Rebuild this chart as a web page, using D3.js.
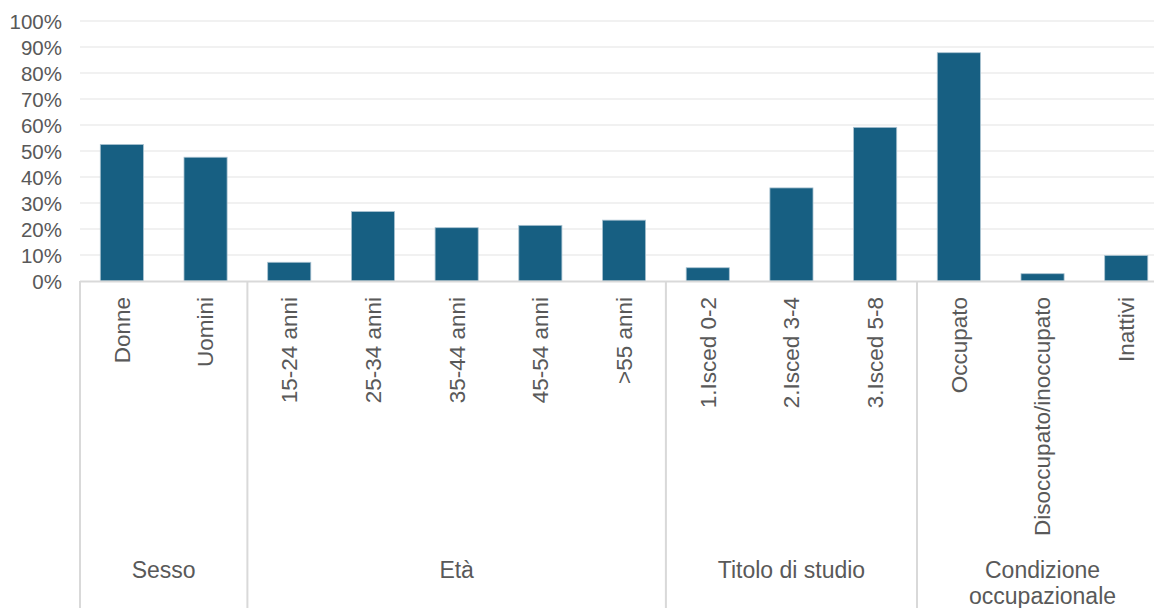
<!DOCTYPE html>
<html>
<head>
<meta charset="utf-8">
<script src="https://cdn.jsdelivr.net/npm/d3@7"></script>
<style>
  body { margin: 0; background: #fff; }
  svg { display: block; font-family: "Liberation Sans", Arial, sans-serif; }
</style>
</head>
<body>
<svg id="chart" width="1154" height="608"></svg>
<script>
'use strict';

const categories = ['Donne', 'Uomini', '15-24 anni', '25-34 anni', '35-44 anni', '45-54 anni', '>55 anni',
  '1.Isced 0-2', '2.Isced 3-4', '3.Isced 5-8', 'Occupato', 'Disoccupato/inoccupato', 'Inattivi'];
const values = [0.525, 0.476, 0.072, 0.267, 0.205, 0.214, 0.234, 0.051, 0.358, 0.591, 0.878, 0.028, 0.098];
const groups = [['Sesso'], ['Età'], ['Titolo di studio'], ['Condizione', 'occupazionale']];
const groupSizes = [2, 5, 3, 3];
const yTicks = [0, 0.1, 0.2, 0.3, 0.4, 0.5, 0.6, 0.7, 0.8, 0.9, 1];

let svg = d3.select('#chart');
let plotLeft = 80;
let step = 83.7;
let plotTop = 21;
let plotBottom = 281;

let x = d3
  .scaleBand()
  .domain(categories)
  .range([plotLeft, plotLeft + step * categories.length])
  .paddingInner(0.485)
  .paddingOuter(0.2425);

let y = d3
  .scaleLinear()
  .domain([0, 1])
  .range([plotBottom, plotTop]);

// grid
svg
  .append('g')
  .selectAll('line')
  .data(yTicks.slice(1))
  .join('line')
  .attr('x1', plotLeft)
  .attr('x2', 1154)
  .attr('y1', d => y(d))
  .attr('y2', d => y(d))
  .attr('stroke', '#ececec')
  .attr('stroke-width', 1.5);

let yAxis = svg
  .append('g')
  .attr('transform', 'translate(' + (plotLeft - 18) + ',0)')
  .call(d3.axisLeft(y).tickValues(yTicks).tickFormat(d3.format('.0%')).tickSize(0).tickPadding(0));
yAxis.select('.domain').remove();
yAxis
  .selectAll('text')
  .attr('fill', '#595959')
  .attr('font-size', '20.5px')
  .attr('font-family', '"Liberation Sans", Arial, sans-serif')
  .attr('dy', '0.35em');

// bars
svg
  .append('g')
  .selectAll('rect')
  .data(values)
  .join('rect')
  .attr('x', (d, i) => x(categories[i]))
  .attr('width', x.bandwidth())
  .attr('y', d => y(d))
  .attr('height', d => y(0) - y(d))
  .attr('fill', '#175f82')
  .attr('stroke', '#a9c2d0')
  .attr('stroke-width', 0.8);

// category axis
svg
  .append('line')
  .attr('x1', plotLeft)
  .attr('x2', 1154)
  .attr('y1', plotBottom + 0.5)
  .attr('y2', plotBottom + 0.5)
  .attr('stroke', '#d9d9d9')
  .attr('stroke-width', 2);

svg
  .append('g')
  .selectAll('text')
  .data(categories)
  .join('text')
  .attr('transform', d => 'translate(' + (x(d) + x.bandwidth() / 2) + ',297) rotate(-90)')
  .attr('text-anchor', 'end')
  .attr('dy', '0.35em')
  .attr('fill', '#595959')
  .attr('font-size', '22.5px')
  .text(d => d);

let bounds = [0];
groupSizes.forEach(function(n, i) {
  bounds.push(bounds[i] + n);
});

svg
  .append('g')
  .selectAll('line')
  .data(bounds.slice(0, -1))
  .join('line')
  .attr('x1', d => plotLeft + d * step)
  .attr('x2', d => plotLeft + d * step)
  .attr('y1', plotBottom)
  .attr('y2', 608)
  .attr('stroke', '#d9d9d9')
  .attr('stroke-width', 2);

let groupText = svg
  .append('g')
  .selectAll('text')
  .data(groups)
  .join('text')
  .attr('x', (d, i) => plotLeft + (bounds[i] + bounds[i + 1]) / 2 * step)
  .attr('y', 578)
  .attr('text-anchor', 'middle')
  .attr('fill', '#595959')
  .attr('font-size', '23px');

groupText
  .selectAll('tspan')
  .data(d => d)
  .join('tspan')
  .attr('x', function() { return this.parentNode.getAttribute('x'); })
  .attr('dy', (d, i) => i === 0 ? 0 : 26)
  .text(d => d);
</script>
</body>
</html>
